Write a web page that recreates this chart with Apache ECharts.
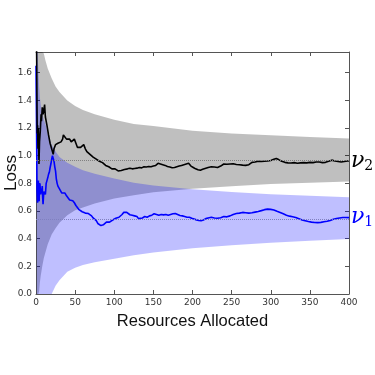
<!DOCTYPE html>
<html>
<head>
<meta charset="utf-8">
<script src="https://cdn.jsdelivr.net/npm/echarts@6/dist/echarts.min.js"></script>
<style>
  html, body { margin: 0; padding: 0; background: #fff; }
  #chart { width: 375px; height: 375px; }
</style>
</head>
<body>
<div id="chart"></div>
<script>
// running loss estimate for each arm
const nu2Steps = [0, 1, 1.5, 2, 2.5, 3, 3.8, 4.5, 5.5, 6.5, 7, 8, 9, 10, 11, 12, 13, 14, 15, 16, 17, 18, 19, 20,
  21, 22, 23, 24, 25, 26, 27, 28, 30, 32, 34, 35, 36, 37, 39, 41, 43, 45, 47, 49, 51, 53, 55, 57, 59, 61, 63,
  65, 67, 69, 71, 73, 75, 77, 79, 81, 83, 85, 87, 89, 91, 93, 95, 97, 99, 101, 103, 105, 107, 109, 111, 113,
  115, 117, 120, 123, 126, 129, 132, 135, 138, 141, 144, 147, 150, 153, 156, 159, 162, 165, 168, 171, 174,
  177, 180, 183, 186, 189, 192, 195, 198, 201, 204, 207, 210, 213, 216, 220, 224, 228, 232, 236, 240, 244,
  248, 252, 256, 260, 264, 268, 272, 276, 280, 284, 288, 292, 296, 300, 304, 307, 310, 314, 318, 322, 326,
  330, 334, 338, 342, 346, 350, 354, 358, 362, 366, 370, 374, 378, 382, 386, 390, 394, 398, 400];
const nu2Loss = [2.3, 1.6, 1.16, 1.22, 1.05, 1.2, 0.94, 1.1, 1.18, 1.3, 1.25, 1.35, 1.3, 1.33, 1.37, 1.28, 1.25,
  1.22, 1.21, 1.15, 1.14, 1.09, 1.07, 1.06, 1.03, 1.01, 1.05, 1.04, 1.08, 1.07, 1.08, 1.09, 1.08, 1.1, 1.12,
  1.15, 1.14, 1.145, 1.12, 1.13, 1.12, 1.1, 1.11, 1.12, 1.09, 1.06, 1.05, 1.06, 1.07, 1.08, 1.05, 1.03, 1.02,
  1.01, 1.0, 0.99, 0.985, 0.975, 0.97, 0.96, 0.965, 0.95, 0.945, 0.93, 0.935, 0.92, 0.91, 0.905, 0.91, 0.905,
  0.895, 0.89, 0.887, 0.893, 0.89, 0.9, 0.895, 0.905, 0.91, 0.905, 0.908, 0.91, 0.915, 0.912, 0.92, 0.918,
  0.922, 0.92, 0.925, 0.93, 0.945, 0.94, 0.935, 0.93, 0.922, 0.918, 0.913, 0.915, 0.92, 0.925, 0.93, 0.935,
  0.94, 0.945, 0.925, 0.915, 0.905, 0.898, 0.895, 0.902, 0.908, 0.915, 0.92, 0.918, 0.915, 0.925, 0.94, 0.938,
  0.94, 0.942, 0.936, 0.935, 0.932, 0.93, 0.935, 0.952, 0.955, 0.96, 0.958, 0.96, 0.962, 0.966, 0.975, 0.98,
  0.972, 0.96, 0.952, 0.948, 0.947, 0.95, 0.946, 0.948, 0.95, 0.948, 0.952, 0.95, 0.955, 0.954, 0.95, 0.952,
  0.96, 0.968, 0.962, 0.958, 0.955, 0.958, 0.962, 0.962];

const nu1Steps = [0, 0.7, 1.3, 2, 2.5, 3, 3.5, 4, 4.5, 5, 6, 6.5, 7, 8, 8.5, 9, 10, 11, 12, 13, 14, 15, 16, 17,
  18, 19, 20, 21, 22, 23, 24, 25, 26, 27, 28, 30, 32, 33, 35, 37, 39, 41, 43, 45, 47, 49, 51, 53, 55, 57, 59,
  61, 63, 65, 67, 69, 71, 73, 75, 77, 79, 81, 83, 84, 86, 88, 90, 92, 94, 96, 98, 100, 102, 104, 106, 108,
  110, 112, 114, 116, 118, 120, 123, 126, 129, 131, 133, 136, 139, 142, 145, 148, 151, 154, 157, 160, 163,
  166, 169, 172, 175, 178, 181, 184, 187, 190, 193, 196, 199, 202, 205, 208, 211, 214, 217, 220, 224, 228,
  232, 236, 240, 244, 248, 252, 256, 260, 264, 268, 272, 276, 280, 284, 288, 292, 296, 300, 304, 308, 312,
  316, 320, 324, 328, 332, 336, 340, 344, 348, 352, 356, 360, 364, 368, 372, 376, 380, 384, 388, 392, 396, 400];
const nu1Loss = [1.65, 1.2, 0.75, 0.66, 0.8, 0.82, 0.7, 0.67, 0.78, 0.8, 0.72, 0.76, 0.73, 0.78, 0.7, 0.65,
  0.74, 0.75, 0.72, 0.8, 0.82, 0.84, 0.865, 0.88, 0.913, 0.94, 0.973, 1.0, 1.01, 0.96, 0.92, 0.889, 0.83, 0.8,
  0.78, 0.76, 0.75, 0.73, 0.72, 0.73, 0.71, 0.7, 0.68, 0.67, 0.675, 0.66, 0.64, 0.63, 0.61, 0.6, 0.595, 0.6,
  0.585, 0.58, 0.582, 0.575, 0.565, 0.55, 0.545, 0.53, 0.51, 0.5, 0.495, 0.49, 0.5, 0.51, 0.52, 0.525, 0.52,
  0.53, 0.535, 0.545, 0.548, 0.55, 0.555, 0.56, 0.575, 0.59, 0.597, 0.59, 0.585, 0.573, 0.57, 0.565, 0.56,
  0.545, 0.536, 0.55, 0.56, 0.555, 0.565, 0.57, 0.58, 0.575, 0.57, 0.575, 0.572, 0.575, 0.57, 0.575, 0.58,
  0.582, 0.575, 0.568, 0.565, 0.56, 0.555, 0.555, 0.548, 0.542, 0.536, 0.532, 0.53, 0.535, 0.545, 0.55, 0.555,
  0.55, 0.548, 0.552, 0.56, 0.558, 0.565, 0.575, 0.582, 0.585, 0.59, 0.588, 0.585, 0.587, 0.592, 0.597, 0.603,
  0.61, 0.614, 0.612, 0.607, 0.598, 0.59, 0.58, 0.57, 0.563, 0.558, 0.553, 0.545, 0.535, 0.53, 0.524, 0.52,
  0.517, 0.516, 0.518, 0.522, 0.526, 0.532, 0.54, 0.546, 0.55, 0.553, 0.553, 0.552];

// confidence bands
const bandSteps = [1, 2, 3, 4, 5, 6, 8, 10, 12, 15, 20, 25, 30, 40, 50, 60, 75, 100, 125, 150, 200, 250, 300, 350, 400];
const nu2Upper = [2.87, 2.47, 2.22, 2.07, 1.97, 1.9, 1.81, 1.74, 1.69, 1.63, 1.56, 1.5, 1.46, 1.4, 1.36, 1.33,
  1.3, 1.26, 1.23, 1.215, 1.18, 1.16, 1.148, 1.135, 1.124];
const nu2Lower = [0, 0, 0, 0.02, 0.085, 0.13, 0.2, 0.26, 0.3, 0.36, 0.43, 0.475, 0.515, 0.57, 0.605, 0.625,
  0.655, 0.69, 0.715, 0.735, 0.762, 0.78, 0.795, 0.805, 0.814];
const nu1Upper = [2.4, 1.85, 1.62, 1.5, 1.42, 1.37, 1.3, 1.26, 1.23, 1.16, 1.08, 1.03, 0.99, 0.95, 0.92, 0.895,
  0.87, 0.835, 0.805, 0.785, 0.758, 0.737, 0.722, 0.71, 0.7];
const nu1Lower = [0, 0, 0, 0, 0, 0, 0, 0, 0, 0, 0, 0.06, 0.1, 0.16, 0.19, 0.21, 0.23, 0.255, 0.28, 0.3, 0.33,
  0.352, 0.37, 0.385, 0.398];

const nu2Mean = 0.966;
const nu1Mean = 0.543;

const labelFont = "'DejaVu Sans', sans-serif";
const nameFont = "'Liberation Sans', Arial, sans-serif";
const frameColor = "#555";

const zip = (xs, ys) => xs.map((x, i) => [x, ys[i]]);

// band = polygon going along the upper edge and back along the lower edge
function band(lower, upper, color) {
  return {
    type: "custom", silent: true,
    data: zip(bandSteps, upper),
    renderItem: (params, api) => {
      if (params.dataIndex !== 0) return;
      const top = bandSteps.map((x, i) => api.coord([x, upper[i]]));
      const bottom = bandSteps.map((x, i) => api.coord([x, lower[i]])).reverse();
      const points = echarts.graphic.clipPointsByRect(top.concat(bottom), params.coordSys);
      return { type: "polygon", shape: { points: points }, style: { fill: color } };
    },
  };
}

function lossLine(steps, loss, color, mean, meanColor, sub) {
  return {
    type: "line", symbol: "none", silent: true,
    lineStyle: { color: color, width: 1.6 },
    data: zip(steps, loss),
    markLine: {
      silent: true, symbol: "none",
      label: { show: false },
      lineStyle: { type: "dotted", color: meanColor, width: 1 },
      data: [{ yAxis: mean }],
    },
    endLabel: {
      show: true,
      distance: 2,
      formatter: "{v|ν}{s|" + sub + "}",
      rich: {
        v: { fontFamily: "'DejaVu Serif', serif", fontStyle: "italic", fontSize: 22, color: color },
        s: { fontFamily: "'DejaVu Serif', serif", fontSize: 14, color: color, padding: [10, 0, 0, 0] },
      },
    },
  };
}

const baseAxis = {
  axisLine: { show: true, onZero: false, lineStyle: { color: frameColor, width: 1 } },
  axisTick: { show: true, inside: true, length: 4, lineStyle: { color: frameColor } },
  splitLine: { show: false },
};

const option = {
  animation: false,
  backgroundColor: "#fff",
  grid: { left: 36, right: 26, top: 52, bottom: 81, outerBoundsMode: "none", containLabel: false },
  xAxis: [
    {
      ...baseAxis, type: "value", min: 0, max: 400, interval: 50, position: "bottom",
      axisLabel: { fontFamily: labelFont, fontSize: 9, color: "#333", margin: 4 },
      name: "Resources Allocated", nameLocation: "middle", nameGap: 19, nameMoveOverlap: false,
      nameTextStyle: { fontFamily: nameFont, fontSize: 16.5, color: "#111" },
    },
    {
      ...baseAxis, type: "value", min: 0, max: 400, interval: 50, position: "top",
      axisLabel: { show: false },
    },
  ],
  yAxis: [
    {
      ...baseAxis, type: "value", min: 0, max: 1.75, interval: 0.2, position: "left",
      axisLabel: {
        fontFamily: labelFont, fontSize: 9, color: "#333", margin: 4, showMaxLabel: false,
        formatter: (v) => v.toFixed(1),
      },
      name: "Loss", nameLocation: "middle", nameGap: 16, nameMoveOverlap: false,
      nameTextStyle: { fontFamily: nameFont, fontSize: 17, color: "#111" },
    },
    {
      ...baseAxis, type: "value", min: 0, max: 1.75, interval: 0.2, position: "right",
      axisLabel: { show: false },
    },
  ],
  series: [
    band(nu2Lower, nu2Upper, "rgba(0,0,0,0.25)"),
    band(nu1Lower, nu1Upper, "rgba(0,0,255,0.25)"),
    lossLine(nu1Steps, nu1Loss, "#0000ff", nu1Mean, "#8080c0", "1"),
    lossLine(nu2Steps, nu2Loss, "#000000", nu2Mean, "#808080", "2"),
  ],
};

const chart = echarts.init(document.getElementById("chart"), null, { renderer: "canvas" });
chart.setOption(option);
</script>
</body>
</html>
